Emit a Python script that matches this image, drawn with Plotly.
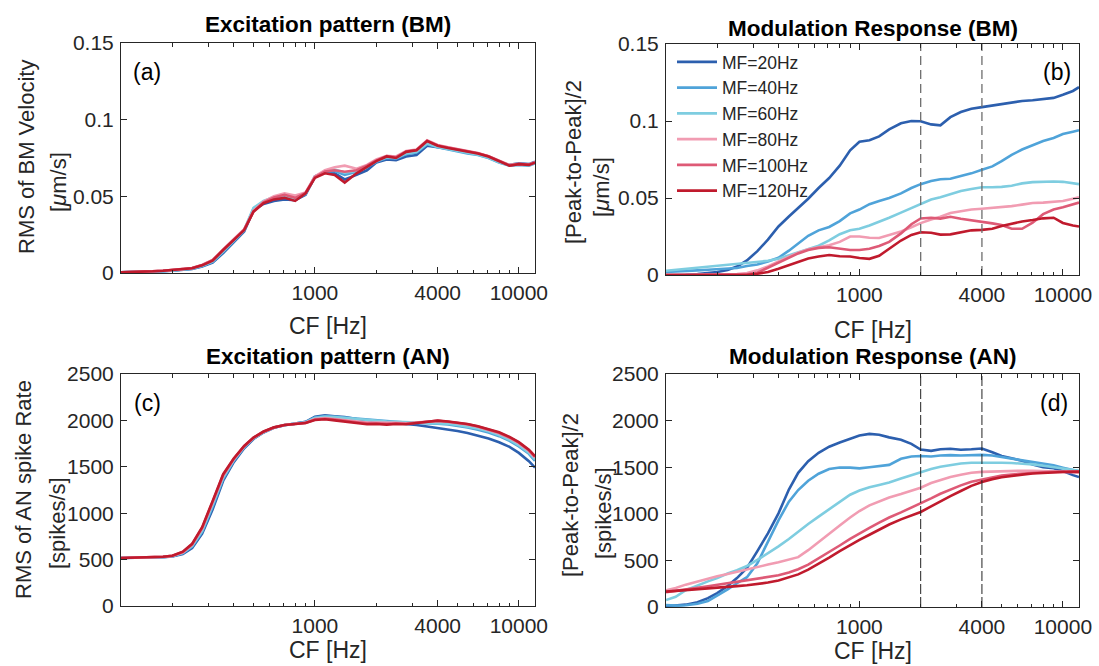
import math
import plotly.graph_objects as go

# ---------------- data ----------------
CF = [112, 125, 140, 160, 180, 200, 225, 250, 280, 315, 355, 400, 450, 500, 560, 630, 710, 800, 900, 1000,
      1120, 1250, 1400, 1600, 1800, 2000, 2250, 2500, 2800, 3150, 3550, 4000, 4500, 5000, 5600, 6300, 7100,
      8000, 9000, 10000, 11200, 12000]

SERIES = ["MF=20Hz", "MF=40Hz", "MF=60Hz", "MF=80Hz", "MF=100Hz", "MF=120Hz"]

# (a) Excitation pattern (BM), RMS of BM velocity [um/s]
BM_EP_20 = [0.0004, 0.0005, 0.0006, 0.0008, 0.0011, 0.0015, 0.0019, 0.0026, 0.0042, 0.0068, 0.0130, 0.0200, 0.0270, 0.0410, 0.0450, 0.0470, 0.0480, 0.0475, 0.0510, 0.0630, 0.0655, 0.0650, 0.0610, 0.0640, 0.0670, 0.0720, 0.0740, 0.0735, 0.0760, 0.0770, 0.0830, 0.0820, 0.0810, 0.0800, 0.0785, 0.0775, 0.0755, 0.0725, 0.0705, 0.0715, 0.0710, 0.0725]
BM_EP_40 = [0.0004, 0.0005, 0.0007, 0.0009, 0.0012, 0.0016, 0.0021, 0.0028, 0.0045, 0.0072, 0.0138, 0.0205, 0.0275, 0.0420, 0.0465, 0.0485, 0.0495, 0.0480, 0.0515, 0.0625, 0.0660, 0.0665, 0.0640, 0.0660, 0.0690, 0.0725, 0.0750, 0.0745, 0.0775, 0.0785, 0.0840, 0.0820, 0.0805, 0.0795, 0.0780, 0.0770, 0.0750, 0.0720, 0.0700, 0.0705, 0.0700, 0.0715]
BM_EP_60 = [0.0005, 0.0006, 0.0007, 0.0010, 0.0013, 0.0017, 0.0022, 0.0029, 0.0047, 0.0075, 0.0142, 0.0210, 0.0282, 0.0425, 0.0470, 0.0495, 0.0505, 0.0485, 0.0518, 0.0628, 0.0665, 0.0675, 0.0655, 0.0665, 0.0695, 0.0730, 0.0755, 0.0750, 0.0780, 0.0790, 0.0845, 0.0822, 0.0808, 0.0798, 0.0782, 0.0772, 0.0752, 0.0722, 0.0702, 0.0708, 0.0702, 0.0718]
BM_EP_80 = [0.0005, 0.0006, 0.0008, 0.0011, 0.0015, 0.0019, 0.0025, 0.0033, 0.0053, 0.0085, 0.0155, 0.0220, 0.0285, 0.0405, 0.0465, 0.0500, 0.0520, 0.0505, 0.0525, 0.0630, 0.0670, 0.0690, 0.0700, 0.0680, 0.0705, 0.0740, 0.0765, 0.0760, 0.0795, 0.0805, 0.0865, 0.0835, 0.0820, 0.0808, 0.0792, 0.0782, 0.0762, 0.0732, 0.0705, 0.0712, 0.0708, 0.0722]
BM_EP_100 = [0.0005, 0.0006, 0.0008, 0.0011, 0.0015, 0.0019, 0.0025, 0.0032, 0.0052, 0.0083, 0.0152, 0.0218, 0.0283, 0.0402, 0.0460, 0.0492, 0.0510, 0.0490, 0.0522, 0.0625, 0.0662, 0.0670, 0.0660, 0.0670, 0.0700, 0.0735, 0.0762, 0.0755, 0.0792, 0.0802, 0.0862, 0.0832, 0.0818, 0.0806, 0.0791, 0.0781, 0.0761, 0.0731, 0.0702, 0.0711, 0.0706, 0.0721]
BM_EP_120 = [0.0005, 0.0006, 0.0008, 0.0011, 0.0015, 0.0019, 0.0024, 0.0031, 0.0050, 0.0080, 0.0150, 0.0215, 0.0280, 0.0400, 0.0455, 0.0480, 0.0490, 0.0470, 0.0520, 0.0620, 0.0650, 0.0640, 0.0590, 0.0650, 0.0690, 0.0730, 0.0760, 0.0750, 0.0790, 0.0800, 0.0860, 0.0830, 0.0815, 0.0805, 0.0790, 0.0780, 0.0760, 0.0730, 0.0700, 0.0710, 0.0705, 0.0720]

# (b) Modulation response (BM), [peak-to-peak]/2 [um/s]
BM_MR_20 = [0.0000, 0.0000, 0.0002, 0.0006, 0.0012, 0.0020, 0.0033, 0.0055, 0.0095, 0.0155, 0.0230, 0.0315, 0.0380, 0.0435, 0.0495, 0.0565, 0.0630, 0.0710, 0.0810, 0.0865, 0.0875, 0.0900, 0.0945, 0.0985, 0.1000, 0.0998, 0.0978, 0.0972, 0.1025, 0.1058, 0.1080, 0.1090, 0.1100, 0.1110, 0.1120, 0.1130, 0.1135, 0.1143, 0.1150, 0.1170, 0.1195, 0.1220]
BM_MR_40 = [0.0020, 0.0022, 0.0025, 0.0030, 0.0034, 0.0038, 0.0041, 0.0045, 0.0058, 0.0068, 0.0088, 0.0112, 0.0158, 0.0205, 0.0255, 0.0290, 0.0312, 0.0350, 0.0400, 0.0425, 0.0460, 0.0480, 0.0500, 0.0530, 0.0565, 0.0590, 0.0610, 0.0622, 0.0625, 0.0643, 0.0660, 0.0683, 0.0705, 0.0740, 0.0780, 0.0815, 0.0845, 0.0870, 0.0890, 0.0915, 0.0930, 0.0940]
BM_MR_60 = [0.0028, 0.0034, 0.0041, 0.0049, 0.0058, 0.0064, 0.0070, 0.0077, 0.0081, 0.0085, 0.0092, 0.0106, 0.0127, 0.0147, 0.0168, 0.0190, 0.0225, 0.0265, 0.0290, 0.0300, 0.0322, 0.0345, 0.0372, 0.0405, 0.0435, 0.0465, 0.0490, 0.0505, 0.0527, 0.0545, 0.0558, 0.0570, 0.0570, 0.0572, 0.0580, 0.0595, 0.0603, 0.0606, 0.0607, 0.0605, 0.0597, 0.0590]
BM_MR_80 = [0.0000, 0.0000, 0.0000, 0.0000, 0.0001, 0.0002, 0.0004, 0.0006, 0.0013, 0.0030, 0.0055, 0.0088, 0.0120, 0.0145, 0.0167, 0.0181, 0.0193, 0.0215, 0.0250, 0.0250, 0.0242, 0.0240, 0.0258, 0.0282, 0.0310, 0.0337, 0.0360, 0.0378, 0.0403, 0.0415, 0.0425, 0.0430, 0.0435, 0.0440, 0.0447, 0.0457, 0.0468, 0.0470, 0.0473, 0.0480, 0.0495, 0.0505]
BM_MR_100 = [0.0000, 0.0000, 0.0000, 0.0000, 0.0000, 0.0000, 0.0000, 0.0000, 0.0004, 0.0015, 0.0046, 0.0078, 0.0110, 0.0140, 0.0163, 0.0176, 0.0180, 0.0173, 0.0162, 0.0162, 0.0170, 0.0188, 0.0215, 0.0270, 0.0330, 0.0367, 0.0372, 0.0366, 0.0378, 0.0365, 0.0356, 0.0347, 0.0335, 0.0325, 0.0300, 0.0300, 0.0340, 0.0395, 0.0425, 0.0440, 0.0460, 0.0470]
BM_MR_120 = [0.0000, 0.0000, 0.0000, 0.0000, 0.0000, 0.0000, 0.0000, 0.0000, 0.0000, 0.0008, 0.0020, 0.0040, 0.0064, 0.0085, 0.0107, 0.0120, 0.0130, 0.0122, 0.0120, 0.0110, 0.0105, 0.0125, 0.0172, 0.0224, 0.0260, 0.0278, 0.0274, 0.0262, 0.0264, 0.0275, 0.0290, 0.0293, 0.0300, 0.0318, 0.0335, 0.0348, 0.0357, 0.0368, 0.0372, 0.0338, 0.0322, 0.0315]

# (c) Excitation pattern (AN), RMS of AN spike rate [spikes/s]
AN_EP_20 = [518, 519, 520, 522, 526, 535, 560, 625, 780, 1040, 1350, 1550, 1700, 1800, 1870, 1920, 1948, 1965, 1985, 2040, 2055, 2045, 2035, 2015, 2000, 1990, 1980, 1972, 1960, 1950, 1935, 1920, 1905, 1885, 1865, 1835, 1805, 1765, 1715, 1650, 1560, 1490]
AN_EP_40 = [518, 519, 520, 522, 527, 537, 568, 640, 800, 1070, 1370, 1565, 1710, 1805, 1872, 1922, 1950, 1965, 1982, 2030, 2048, 2040, 2030, 2020, 2008, 1998, 1990, 1985, 1978, 1975, 1970, 1965, 1955, 1942, 1925, 1900, 1870, 1830, 1780, 1720, 1640, 1565]
AN_EP_60 = [518, 519, 520, 523, 528, 538, 572, 648, 812, 1090, 1385, 1572, 1715, 1808, 1874, 1923, 1950, 1964, 1978, 2025, 2040, 2035, 2025, 2015, 2004, 1995, 1988, 1984, 1980, 1978, 1976, 1975, 1965, 1952, 1935, 1912, 1882, 1842, 1792, 1732, 1652, 1580]
AN_EP_80 = [518, 519, 521, 524, 529, 540, 578, 660, 835, 1115, 1405, 1582, 1720, 1812, 1877, 1924, 1950, 1963, 1975, 2015, 2025, 2015, 2002, 1990, 1978, 1978, 1972, 1974, 1970, 1978, 1988, 1995, 1985, 1972, 1955, 1932, 1900, 1862, 1812, 1755, 1672, 1600]
AN_EP_100 = [518, 519, 521, 524, 530, 541, 582, 665, 842, 1122, 1412, 1586, 1722, 1813, 1878, 1924, 1950, 1962, 1973, 2010, 2018, 2008, 1993, 1980, 1968, 1970, 1964, 1968, 1964, 1975, 1988, 1996, 1986, 1975, 1958, 1935, 1904, 1866, 1816, 1760, 1678, 1607]
AN_EP_120 = [518, 519, 521, 524, 530, 542, 585, 670, 850, 1130, 1420, 1590, 1725, 1815, 1880, 1925, 1950, 1962, 1972, 2005, 2012, 2000, 1985, 1970, 1958, 1962, 1955, 1962, 1958, 1972, 1988, 1998, 1988, 1978, 1962, 1938, 1908, 1872, 1822, 1765, 1685, 1615]

# (d) Modulation response (AN), [peak-to-peak]/2 [spikes/s]
AN_MR_20 = [8, 15, 25, 52, 95, 150, 225, 310, 420, 600, 790, 1005, 1260, 1440, 1565, 1655, 1720, 1765, 1808, 1840, 1857, 1848, 1820, 1795, 1750, 1690, 1675, 1692, 1698, 1688, 1692, 1700, 1660, 1620, 1595, 1570, 1530, 1500, 1488, 1460, 1415, 1395]
AN_MR_40 = [20, 15, 18, 35, 65, 120, 190, 255, 320, 470, 700, 930, 1130, 1255, 1355, 1430, 1480, 1497, 1495, 1488, 1500, 1510, 1525, 1590, 1615, 1620, 1615, 1625, 1630, 1625, 1630, 1632, 1625, 1610, 1590, 1575, 1555, 1540, 1520, 1495, 1470, 1455]
AN_MR_60 = [75, 110, 180, 235, 275, 310, 360, 395, 440, 505, 575, 650, 730, 810, 890, 970, 1050, 1130, 1205, 1250, 1285, 1310, 1335, 1378, 1415, 1450, 1480, 1505, 1525, 1540, 1548, 1550, 1550, 1548, 1545, 1540, 1530, 1515, 1500, 1485, 1470, 1462]
AN_MR_80 = [180, 205, 240, 275, 305, 330, 355, 380, 405, 430, 455, 480, 505, 535, 610, 700, 790, 875, 960, 1030, 1090, 1135, 1175, 1212, 1248, 1280, 1330, 1365, 1395, 1420, 1440, 1450, 1455, 1460, 1461, 1462, 1461, 1459, 1456, 1452, 1447, 1444]
AN_MR_100 = [160, 172, 188, 205, 222, 238, 255, 270, 285, 300, 318, 340, 370, 405, 455, 520, 590, 660, 730, 790, 850, 905, 960, 1015, 1065, 1110, 1165, 1215, 1260, 1305, 1345, 1370, 1395, 1410, 1422, 1432, 1440, 1446, 1450, 1452, 1454, 1455]
AN_MR_120 = [165, 172, 182, 192, 200, 207, 215, 224, 234, 246, 262, 285, 315, 350, 400, 460, 530, 600, 665, 720, 775, 830, 885, 940, 985, 1020, 1080, 1135, 1190, 1245, 1300, 1340, 1372, 1392, 1408, 1420, 1432, 1440, 1445, 1448, 1450, 1450]

MARKER_CF = [2000, 4000]

X_TICKS = [1000, 4000, 10000]
X_TICK_TEXT = ["1000", "4000", "10000"]
X_MINOR = [200, 300, 400, 500, 600, 700, 800, 900, 2000, 3000, 5000, 6000, 7000, 8000, 9000]
Y_TICKS_BM = [0, 0.05, 0.1, 0.15]
Y_TICK_TEXT_BM = ["0", "0.05", "0.1", "0.15"]
Y_TICKS_AN = [0, 500, 1000, 1500, 2000, 2500]
Y_TICK_TEXT_AN = ["0", "500", "1000", "1500", "2000", "2500"]

COLORS = ["#2c5fae", "#4fa3d9", "#7ecde0", "#f19cb2", "#de5a76", "#c01a2d"]

# ---------------- figure ----------------
W, H = 1099, 666
FONT = "Liberation Sans, Arial, sans-serif"
AX = "#262626"
TICK_SIZE = 21


def px(x):
    return x / W


def py(y):
    return 1 - y / H


fig = go.Figure()

panels = [
    ("x", "y", [BM_EP_20, BM_EP_40, BM_EP_60, BM_EP_80, BM_EP_100, BM_EP_120], False),
    ("x2", "y2", [BM_MR_20, BM_MR_40, BM_MR_60, BM_MR_80, BM_MR_100, BM_MR_120], True),
    ("x3", "y3", [AN_EP_20, AN_EP_40, AN_EP_60, AN_EP_80, AN_EP_100, AN_EP_120], False),
    ("x4", "y4", [AN_MR_20, AN_MR_40, AN_MR_60, AN_MR_80, AN_MR_100, AN_MR_120], False),
]

for xa, ya, data, legend in panels:
    for name, vals, col in zip(SERIES, data, COLORS):
        fig.add_trace(go.Scatter(x=CF, y=vals, xaxis=xa, yaxis=ya, mode="lines", name=name,
                                 line=dict(color=col, width=2.6), showlegend=legend, hoverinfo="skip"))

# dashed CF markers in (b) and (d)
for cf in MARKER_CF:
    fig.add_trace(go.Scatter(x=[cf, cf], y=[0, 0.15], xaxis="x2", yaxis="y2", mode="lines",
                             line=dict(color="#6e6e6e", width=1.3, dash="9px,5px"), showlegend=False,
                             hoverinfo="skip"))
    fig.add_trace(go.Scatter(x=[cf, cf], y=[0, 2500], xaxis="x4", yaxis="y4", mode="lines",
                             line=dict(color="#222222", width=1, dash="10px,3px"), showlegend=False,
                             hoverinfo="skip"))


def xaxis(domain, anchor):
    return dict(type="log", range=[math.log10(112), math.log10(12000)], domain=domain, anchor=anchor,
                automargin=False, tickmode="array", tickvals=X_TICKS, ticktext=X_TICK_TEXT,
                ticks="inside", ticklen=6, tickwidth=1, tickcolor=AX,
                minor=dict(tickmode="array", tickvals=X_MINOR, ticks="inside", ticklen=3.5, tickwidth=1,
                           tickcolor=AX, showgrid=False),
                showline=True, linecolor=AX, linewidth=1, mirror="ticks", showgrid=False, zeroline=False,
                tickfont=dict(family=FONT, size=TICK_SIZE, color=AX), ticklabelstandoff=1)


def yaxis(domain, anchor, rng, tv, tt):
    return dict(range=rng, domain=domain, anchor=anchor, automargin=False,
                tickmode="array", tickvals=tv, ticktext=tt,
                ticks="inside", ticklen=6, tickwidth=1, tickcolor=AX,
                showline=True, linecolor=AX, linewidth=1, mirror="ticks", showgrid=False, zeroline=False,
                tickfont=dict(family=FONT, size=TICK_SIZE, color=AX), ticklabelstandoff=2)


XA = [px(121), px(535)]
XB = [px(666), px(1079)]
fig.update_layout(
    width=W, height=H, margin=dict(l=0, r=0, t=0, b=0, autoexpand=False),
    paper_bgcolor="white", plot_bgcolor="white",
    font=dict(family=FONT, color="black"),
    xaxis=xaxis(XA, "y"), yaxis=yaxis([py(273), py(43)], "x", [0, 0.15], Y_TICKS_BM, Y_TICK_TEXT_BM),
    xaxis2=xaxis(XB, "y2"), yaxis2=yaxis([py(275), py(44)], "x2", [0, 0.15], Y_TICKS_BM, Y_TICK_TEXT_BM),
    xaxis3=xaxis(XA, "y3"), yaxis3=yaxis([py(606), py(374)], "x3", [0, 2500], Y_TICKS_AN, Y_TICK_TEXT_AN),
    xaxis4=xaxis(XB, "y4"), yaxis4=yaxis([py(607), py(374)], "x4", [0, 2500], Y_TICKS_AN, Y_TICK_TEXT_AN),
    legend=dict(x=px(672), y=py(44), xanchor="left", yanchor="top", bgcolor="rgba(0,0,0,0)",
                font=dict(family=FONT, size=17.5, color=AX), itemwidth=40, tracegroupgap=0),
    showlegend=True,
)


def ann(text, x, y, size, bold=False, angle=0, color="black"):
    fig.add_annotation(text=f"<b>{text}</b>" if bold else text, x=px(x), y=py(y), xref="paper", yref="paper",
                       showarrow=False, textangle=angle, xanchor="center", yanchor="middle",
                       font=dict(family=FONT, size=size, color=color))


# subplot titles
ann("Excitation pattern (BM)", 328, 25, 22.5, bold=True)
ann("Modulation Response (BM)", 873, 28, 22.5, bold=True)
ann("Excitation pattern (AN)", 328, 356, 22.5, bold=True)
ann("Modulation Response (AN)", 873, 356, 22.5, bold=True)

# x-axis titles
ann("CF [Hz]", 328, 326, 23, color=AX)
ann("CF [Hz]", 873, 330, 23, color=AX)
ann("CF [Hz]", 328, 650, 23, color=AX)
ann("CF [Hz]", 873, 651, 23, color=AX)

# y-axis titles
ann("RMS of BM Velocity", 27, 157, 22, angle=-90, color=AX)
ann("[<i>μ</i>m/s]", 59, 182, 22, angle=-90, color=AX)
ann("[Peak-to-Peak]/2", 574, 162, 22, angle=-90, color=AX)
ann("[<i>μ</i>m/s]", 602, 187, 22, angle=-90, color=AX)
ann("RMS of AN spike Rate", 23, 490, 22, angle=-90, color=AX)
ann("[spikes/s]", 57, 523, 22, angle=-90, color=AX)
ann("[Peak-to-Peak]/2", 570, 495, 22, angle=-90, color=AX)
ann("[spikes/s]", 603, 513, 22, angle=-90, color=AX)

# panel labels
ann("(a)", 147, 72, 23)
ann("(b)", 1057, 72, 23)
ann("(c)", 147, 403, 23)
ann("(d)", 1054, 403, 23)

fig.write_html("out.html", config={"displayModeBar": False},
               post_script="document.body.style.margin='0';document.body.style.overflow='hidden';")
